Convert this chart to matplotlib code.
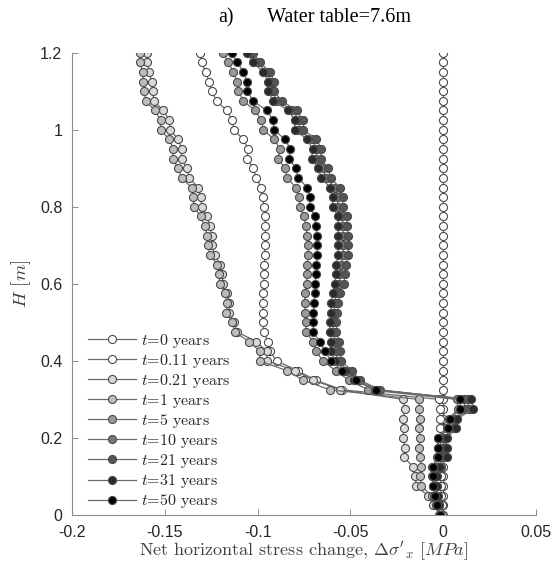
import numpy as np
import matplotlib
matplotlib.use('Agg')
import matplotlib.pyplot as plt
from matplotlib.font_manager import FontProperties

plt.rcParams['mathtext.fontset'] = 'cm'
plt.rcParams['axes.unicode_minus'] = False

# ---------- data ----------
H = [1.2, 1.175, 1.15, 1.125, 1.1, 1.075, 1.05, 1.025, 1.0, 0.975,
     0.95, 0.925, 0.9, 0.875, 0.85, 0.825, 0.8, 0.775, 0.75, 0.725,
     0.7, 0.675, 0.65, 0.625, 0.6, 0.575, 0.55, 0.525, 0.5, 0.475,
     0.45, 0.425, 0.4, 0.375, 0.35, 0.325, 0.3, 0.275, 0.25, 0.225,
     0.2, 0.175, 0.15, 0.125, 0.1, 0.075, 0.05, 0.025, 0.0]

times = ['0', '0.11', '0.21', '1', '5', '10', '21', '31', '50']
face_colors = ['#ffffff', '#ffffff', '#d9d9d9', '#bdbdbd', '#999999',
               '#777777', '#555555', '#2b2b2b', '#000000']

ds_t0 = [0.0] * 49

ds_t011 = [-0.1311, -0.1302, -0.1280, -0.1262, -0.1248, -0.1221, -0.1167, -0.1136, -0.1128, -0.1077,
           -0.1052, -0.1056, -0.1026, -0.1006, -0.0982, -0.0972, -0.0966, -0.0961, -0.0958, -0.0958,
           -0.0961, -0.0961, -0.0963, -0.0966, -0.0966,
           -0.0970, -0.0970, -0.0972, -0.0970, -0.0968, -0.0943, -0.0934, -0.0898, -0.0785, -0.0688, -0.0545,
           -0.0020, -0.0018, -0.0018, -0.0016, -0.0016, -0.0015, -0.0015, -0.0014, -0.0013, -0.0012,
           -0.0010, -0.0008, -0.0005]

ds_t021 = [-0.1598, -0.1594, -0.1584, -0.1571, -0.1566, -0.1559, -0.1508, -0.1476, -0.1472, -0.1427,
           -0.1410, -0.1410, -0.1383, -0.1368, -0.1320, -0.1307, -0.1302, -0.1271, -0.1257, -0.1248,
           -0.1248, -0.1230, -0.1203, -0.1194, -0.1185,
           -0.1164, -0.1152, -0.1155, -0.1125, -0.1110, -0.1006, -0.0952, -0.0948, -0.0799, -0.0700, -0.0557,
           -0.0216, -0.0207, -0.0216, -0.0212, -0.0216, -0.0207, -0.0212, -0.0162, -0.0153, -0.0144,
           -0.0081, -0.0054, -0.0018]

ds_t1 = [-0.1634, -0.1634, -0.1620, -0.1616, -0.1612, -0.1602, -0.1553, -0.1523, -0.1523, -0.1476,
         -0.1454, -0.1458, -0.1427, -0.1410, -0.1356, -0.1347, -0.1343, -0.1307, -0.1284, -0.1271,
         -0.1266, -0.1257, -0.1217, -0.1207, -0.1203,
         -0.1176, -0.1165, -0.1168, -0.1136, -0.1124, -0.1045, -0.0988, -0.0988, -0.0844, -0.0754, -0.0611,
         -0.0130, -0.0130, -0.0126, -0.0130, -0.0126, -0.0130, -0.0126, -0.0117, -0.0124, -0.0117,
         -0.0063, -0.0036, -0.0018]

ds_t5 = [-0.1185, -0.1158, -0.1131, -0.1110, -0.1104, -0.1077, -0.1015, -0.0979, -0.0970, -0.0910,
         -0.0880, -0.0889, -0.0853, -0.0840, -0.0794, -0.0776, -0.0772, -0.0751, -0.0740, -0.0733,
         -0.0727, -0.0727, -0.0733, -0.0736, -0.0736,
         -0.0745, -0.0745, -0.0745, -0.0740, -0.0740, -0.0700, -0.0683, -0.0650, -0.0580, -0.0510, -0.0404,
         0.0075, 0.0080, 0.0030, 0.0020, -0.0030, -0.0030, -0.0032, -0.0058, -0.0058, -0.0056,
         -0.0048, -0.0038, -0.0020]

ds_t10 = [-0.1040, -0.1005, -0.0952, -0.0926, -0.0925, -0.0893, -0.0812, -0.0776, -0.0776, -0.0708,
          -0.0680, -0.0685, -0.0647, -0.0632, -0.0584, -0.0569, -0.0569, -0.0544, -0.0541, -0.0539,
          -0.0539, -0.0539, -0.0550, -0.0554, -0.0560,
          -0.0576, -0.0584, -0.0588, -0.0592, -0.0593, -0.0581, -0.0580, -0.0566, -0.0512, -0.0465, -0.0356,
          0.0132, 0.0138, 0.0068, 0.0062, 0.0009, 0.0011, 0.0005, -0.0028, -0.0040, -0.0040,
          -0.0032, -0.0025, -0.0018]

ds_t21 = [-0.1024, -0.0988, -0.0934, -0.0910, -0.0910, -0.0871, -0.0790, -0.0754, -0.0754, -0.0683,
          -0.0656, -0.0661, -0.0620, -0.0607, -0.0557, -0.0542, -0.0542, -0.0521, -0.0517, -0.0512,
          -0.0512, -0.0512, -0.0525, -0.0530, -0.0535,
          -0.0557, -0.0565, -0.0570, -0.0575, -0.0575, -0.0560, -0.0557, -0.0548, -0.0494, -0.0449, -0.0341,
          0.0113, 0.0116, 0.0062, 0.0054, 0.0000, 0.0003, -0.0009, -0.0040, -0.0045, -0.0045,
          -0.0036, -0.0027, -0.0018]

ds_t31 = [-0.1059, -0.1024, -0.0970, -0.0943, -0.0943, -0.0916, -0.0835, -0.0799, -0.0799, -0.0733,
          -0.0704, -0.0709, -0.0674, -0.0656, -0.0611, -0.0596, -0.0596, -0.0566, -0.0566, -0.0566,
          -0.0566, -0.0566, -0.0575, -0.0578, -0.0584,
          -0.0596, -0.0602, -0.0605, -0.0608, -0.0611, -0.0602, -0.0602, -0.0584, -0.0530, -0.0480, -0.0370,
          0.0152, 0.0161, 0.0075, 0.0070, 0.0018, 0.0020, 0.0018, -0.0015, -0.0036, -0.0036,
          -0.0027, -0.0022, -0.0018]

ds_t50 = [-0.1140, -0.1110, -0.1077, -0.1056, -0.1056, -0.1024, -0.0952, -0.0916, -0.0912, -0.0853,
          -0.0823, -0.0830, -0.0794, -0.0781, -0.0733, -0.0718, -0.0718, -0.0692, -0.0686, -0.0679,
          -0.0679, -0.0679, -0.0683, -0.0686, -0.0690,
          -0.0691, -0.0696, -0.0700, -0.0700, -0.0700, -0.0665, -0.0638, -0.0602, -0.0545, -0.0470, -0.0360,
          0.0089, 0.0093, 0.0036, 0.0027, -0.0027, -0.0027, -0.0027, -0.0054, -0.0054, -0.0054,
          -0.0045, -0.0036, -0.0018]

series = [ds_t0, ds_t011, ds_t021, ds_t1, ds_t5, ds_t10, ds_t21, ds_t31, ds_t50]

xticks = [-0.2, -0.15, -0.1, -0.05, 0, 0.05]
xticklabels = ['-0.2', '-0.15', '-0.1', '-0.05', '0', '0.05']
yticks = [0, 0.2, 0.4, 0.6, 0.8, 1.0, 1.2]
yticklabels = ['0', '0.2', '0.4', '0.6', '0.8', '1', '1.2']

# ---------- plot ----------
fig = plt.figure(figsize=(5.56, 5.65), dpi=100)
ax = fig.add_axes([72/556, 1 - 515/565, (536 - 72)/556, (515 - 52.7)/565])

for t, fc, xs in zip(times, face_colors, series):
    ax.plot(xs, H, '-o', color='#6a6a6a', lw=0.9, ms=5.8,
            mfc=fc, mec='#4a4a4a', mew=0.8,
            label=r'$t$=' + t + ' years')

ax.set_xlim(-0.2, 0.05)
ax.set_ylim(0, 1.2)
ax.set_xticks(xticks)
ax.set_xticklabels(xticklabels)
ax.set_yticks(yticks)
ax.set_yticklabels(yticklabels)

for s in ['top', 'right']:
    ax.spines[s].set_visible(False)
for s in ['left', 'bottom']:
    ax.spines[s].set_color('#8c8c8c')
    ax.spines[s].set_linewidth(0.8)

ax.tick_params(direction='in', length=4, width=0.7, color='#8c8c8c',
               labelcolor='#262626', labelsize=11.5, pad=7)
for lab in ax.get_xticklabels() + ax.get_yticklabels():
    lab.set_family('Liberation Sans')

ax.set_xlabel(r"Net horizontal stress change, $\Delta\sigma'_x$ $[MPa]$",
              fontfamily='cmr10', fontsize=13, color='#404040', labelpad=0)
ax.set_ylabel(r'$H$ $[m]$', fontfamily='cmr10', fontsize=13.5,
              color='#404040', labelpad=5)

leg = ax.legend(loc='lower left', bbox_to_anchor=(11/464, 0.0),
                frameon=False, prop=FontProperties(family='cmr10', size=11.5),
                handlelength=3.0, handletextpad=0.35, labelspacing=0.13,
                borderpad=0.0, borderaxespad=0.3)
for txt in leg.get_texts():
    txt.set_color('#262626')

fig.text(218/556, 1 - 22/565, 'a)', fontfamily='Liberation Serif', fontsize=14.5)
fig.text(267/556, 1 - 22/565, 'Water table=7.6m', fontfamily='Liberation Serif', fontsize=14.5)

fig.savefig('out.png', dpi=100)
